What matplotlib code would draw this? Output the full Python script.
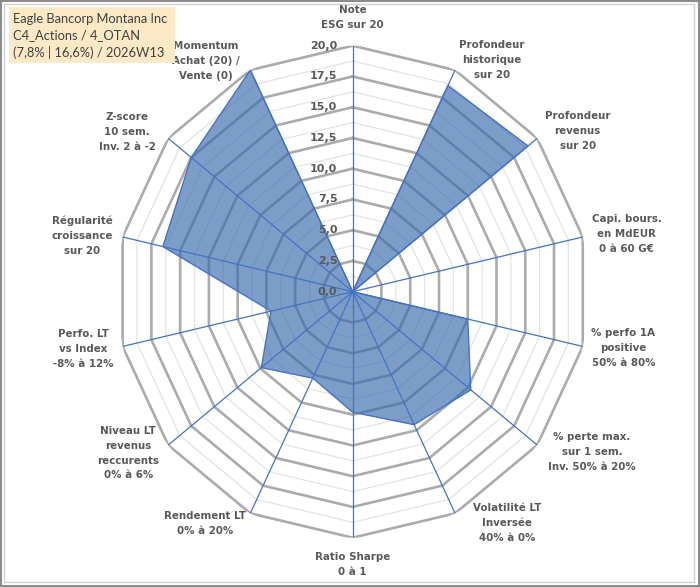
import numpy as np
import matplotlib
matplotlib.use("Agg")
import matplotlib.pyplot as plt
from matplotlib.patches import Rectangle

categories = [
    "Note\nESG sur 20",
    "Profondeur\nhistorique\nsur 20",
    "Profondeur\nrevenus\nsur 20",
    "Capi. bours.\nen MdEUR\n0 à 60 G€",
    "% perfo 1A\npositive\n50% à 80%",
    "% perte max.\nsur 1 sem.\nInv. 50% à 20%",
    "Volatilité LT\nInversée\n40% à 0%",
    "Ratio Sharpe\n0 à 1",
    "Rendement LT\n0% à 20%",
    "Niveau LT\nrevenus\nreccurents\n0% à 6%",
    "Perfo. LT\nvs Index\n-8% à 12%",
    "Régularité\ncroissance\nsur 20",
    "Z-score\n10 sem.\nInv. 2 à -2",
    "Momentum\nAchat (20) /\nVente (0)",
]
values = [0.0, 18.6, 19.0, 0.0, 10.0, 12.8, 12.0, 9.8, 7.8, 9.9, 7.1, 16.5, 17.5, 20.0]
tick_values = [0.0, 2.5, 5.0, 7.5, 10.0, 12.5, 15.0, 17.5, 20.0]
tick_labels = ["0,0", "2,5", "5,0", "7,5", "10,0", "12,5", "15,0", "17,5", "20,0"]
title_lines = ["Eagle Bancorp Montana Inc", "C4_Actions / 4_OTAN", "(7,8% | 16,6%) / 2026W13"]

# label placement (angle in degrees clockwise from top, radius in data units)
label_pos = [(0, 22.3), (32.1, 22.2), (55.6, 23.1), (78.6, 23.7), (101.3, 23.4),
             (122.7, 24.1), (145.2, 22.9), (180, 22.2), (213.6, 22.6), (235.4, 23.1),
             (258.4, 23.3), (281.3, 23.4), (304.2, 23.1), (326.5, 22.5)]

W, H = 700, 587
fig = plt.figure(figsize=(W / 100, H / 100), dpi=100)
fig.patch.set_facecolor("white")

cx, cy = 352.7, 291.7
rx, ry = 236, 246
ax = fig.add_axes([(cx - rx) / W, (H - cy - ry) / H, 2 * rx / W, 2 * ry / H], projection="polar")
ax.set_aspect("auto")
ax.set_theta_zero_location("N")
ax.set_theta_direction(-1)
ax.set_ylim(0, 20)
ax.grid(False)
ax.spines["polar"].set_visible(False)
ax.set_xticks([])
ax.set_yticks([])
ax.patch.set_alpha(0)

n = len(categories)
angles = np.arange(n) * 2 * np.pi / n
closed = np.concatenate([angles, angles[:1]])

# grid rings
minor = np.arange(1.25, 20.0, 2.5)
for lv in minor:
    ax.plot(closed, [lv] * (n + 1), color="#E3E3E3", lw=0.9, zorder=1)
for lv in tick_values[1:]:
    ax.plot(closed, [lv] * (n + 1), color="#ABABAB", lw=1.9, zorder=1)

# spokes
for a in angles:
    ax.plot([a, a], [0, 20], color="#4472C4", lw=0.9, zorder=3)

# data
v = np.array(values + values[:1])
ax.fill(closed, v, color="#3A6AAE", alpha=0.66, zorder=2, lw=0)
ax.plot(closed, v, color="#4472C4", lw=1.0, zorder=4)

# tick labels
for tv, tl in zip(tick_values, tick_labels):
    ax.annotate(tl, xy=(0, tv), xytext=(-11, 0), textcoords="offset points",
                ha="right", va="center", fontsize=8, fontweight="bold",
                color="#595959", family="DejaVu Sans", zorder=5)

# category labels
for lab, (adeg, r) in zip(categories, label_pos):
    ax.text(np.deg2rad(adeg), r, lab, ha="center", va="center", fontsize=7.4,
            fontweight="bold", color="#595959", family="DejaVu Sans",
            linespacing=1.62, zorder=5)

# title box
fig.patches.append(Rectangle((9 / W, 1 - 63 / H), 166 / W, 56 / H, transform=fig.transFigure,
                             facecolor="#FDE9C5", edgecolor="none", zorder=0))
fig.text(13 / W, 1 - 36 / H, "\n".join(title_lines), ha="left", va="center",
         fontsize=9.3, color="#404040", family="Lato", linespacing=1.42)

# borders
fig.patches.append(Rectangle((1 / W, 1 / H), (W - 2) / W, (H - 2) / H, transform=fig.transFigure,
                             facecolor="none", edgecolor="#8C8C8C", lw=1.5))
fig.patches.append(Rectangle((4 / W, 5 / H), (W - 10) / W, (H - 9) / H, transform=fig.transFigure,
                             facecolor="none", edgecolor="#D0D0D0", lw=1.0))

fig.savefig("out.png", dpi=100, facecolor="white")
